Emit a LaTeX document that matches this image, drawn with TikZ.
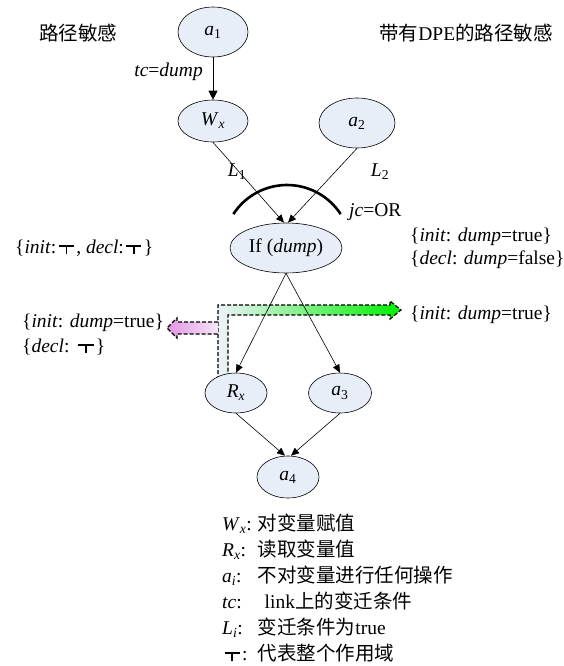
\documentclass[tikz,border=0pt]{standalone}
\usepackage{fontspec}
\setmainfont{Liberation Serif}
\newfontfamily\cjk{Noto Sans CJK SC}
\usetikzlibrary{shapes.geometric,arrows.meta}

\definecolor{actfill}{HTML}{E8EEF8}
\definecolor{bandpale}{HTML}{EEF2FB}
\definecolor{bandgreen}{HTML}{00F000}
\definecolor{pinkhead}{HTML}{E296E4}
\definecolor{pinkpale}{HTML}{F4E6F6}

% italic symbol with a subscript
\newcommand\iv[2]{\textit{#1}\textsubscript{#2}}
% the "whole scope" mark: a wide bar on a short stem
\newcommand\scopetop{\mbox{\kern0.12em\rule[0.34em]{0.78em}{0.07em}\kern-0.425em\rule[-0.03em]{0.07em}{0.42em}\kern0.355em\kern0.12em}}

\begin{document}
\begin{tikzpicture}[x=1pt,y=-1pt,
  every node/.style={font=\fontsize{19.5}{23}\selectfont},
  act/.style={ellipse,draw,fill=actfill,line width=0.6pt,inner sep=0pt},
  link/.style={line width=0.6pt,-{Triangle[length=8pt,width=7pt]}},
  biglink/.style={line width=1pt,-{Triangle[length=9pt,width=9pt]}},
  lbl/.style={inner sep=0pt},
  band/.style={draw,dash pattern=on 4pt off 2pt,line width=1.2pt}]
\useasboundingbox (0,0) rectangle (563,666);

% scope propagation bands (init to the right, decl to the left)
\path[left color=bandpale,right color=bandgreen]
  (218,392) -- (218,305) -- (390,305) -- (390,301) -- (401,310) -- (390,319)
  -- (390,315) -- (228,315) -- (228,392) -- cycle;
\draw[band] (218,392) -- (218,305) -- (390,305) -- (390,301) -- (401,310)
  -- (390,319) -- (390,315) -- (228,315) -- (228,392);
\path[left color=pinkhead,right color=pinkpale]
  (218,322) -- (177,322) -- (177,318) -- (167,328) -- (177,338) -- (177,334)
  -- (218,334) -- cycle;
\draw[band] (218,322) -- (177,322) -- (177,318) -- (167,328) -- (177,338)
  -- (177,334) -- (218,334);

% activities
\node[act,minimum width=70pt,minimum height=50pt] (a1) at (213,32) {\iv{a}{1}};
\node[act,minimum width=70pt,minimum height=42pt] (Wx) at (213,121) {\iv{W}{\textit{x}}};
\node[act,minimum width=76pt,minimum height=50pt] (a2) at (357,123) {\iv{a}{2}};
\node[act,minimum width=112pt,minimum height=50pt] (If) at (286,248) {If (\textit{dump})};
\node[act,minimum width=62pt,minimum height=40pt] (Rx) at (236,393) {\iv{R}{\textit{x}}};
\node[act,minimum width=63pt,minimum height=40pt] (a3) at (340,393) {\iv{a}{3}};
\node[act,minimum width=62pt,minimum height=42pt] (a4) at (288,477) {\iv{a}{4}};

% links
\draw[biglink] (a1.south) -- (Wx.north);
\draw[link] (Wx.south) -- ([xshift=-2pt]If.north);
\draw[link] (a2.south) -- ([xshift=2pt]If.north);
\draw[link] (If.south) -- (Rx.north);
\draw[link] (If.south) -- (a3.north);
\draw[link] (Rx.south) -- ([xshift=-3pt]a4.north);
\draw[link] (a3.south) -- ([xshift=3pt]a4.north);

% join condition arc
\coordinate (jcC) at (287,249);
\draw[line width=2.6pt] (jcC) ++(-147:64) arc[start angle=-147,end angle=-33,radius=64];

% labels
\node[lbl] (t1) at (78,33) {\cjk 路径敏感};
\node[lbl] (t2) at (466,33) {{\cjk 带有}DPE{\cjk 的路径敏感}};
\node[lbl,anchor=east] (tc) at (203,72) {\textit{tc}=\textit{dump}};
\node[lbl] (l1) at (237,172) {\iv{L}{1}};
\node[lbl] (l2) at (380,172) {\iv{L}{2}};
\node[lbl,anchor=west] (jc) at (349,212) {\textit{jc}=OR};
\node[lbl,anchor=west] (s0) at (15,248) {\{\textit{init}:\scopetop, \textit{decl}:\scopetop\}};
\node[lbl,anchor=west] (r1) at (410,237) {\{\textit{init}: \textit{dump}=true\}};
\node[lbl,anchor=west] (r2) at (410,260) {\{\textit{decl}: \textit{dump}=false\}};
\node[lbl,anchor=west] (r3) at (410,315) {\{\textit{init}: \textit{dump}=true\}};
\node[lbl,anchor=west] (q1) at (22,323) {\{\textit{init}: \textit{dump}=true\}};
\node[lbl,anchor=west] (q2) at (22,347) {\{\textit{decl}: \scopetop\}};

% legend
\node[lbl,anchor=north west,font=\fontsize{19.5}{26}\selectfont] (key) at (222,512) {%
\begin{tabular}{@{}l@{\hspace{6pt}}l@{}}
\iv{W}{\textit{x}}: & {\cjk 对变量赋值}\\
\iv{R}{\textit{x}}: & {\cjk 读取变量值}\\
\iv{a}{\textit{i}}: & {\cjk 不对变量进行任何操作}\\
\textit{tc}: & \hspace{0.35em}link{\cjk 上的变迁条件}\\
\iv{L}{\textit{i}}: & {\cjk 变迁条件为}true\\
\scopetop: & {\cjk 代表整个作用域}
\end{tabular}};
\end{tikzpicture}
\end{document}
